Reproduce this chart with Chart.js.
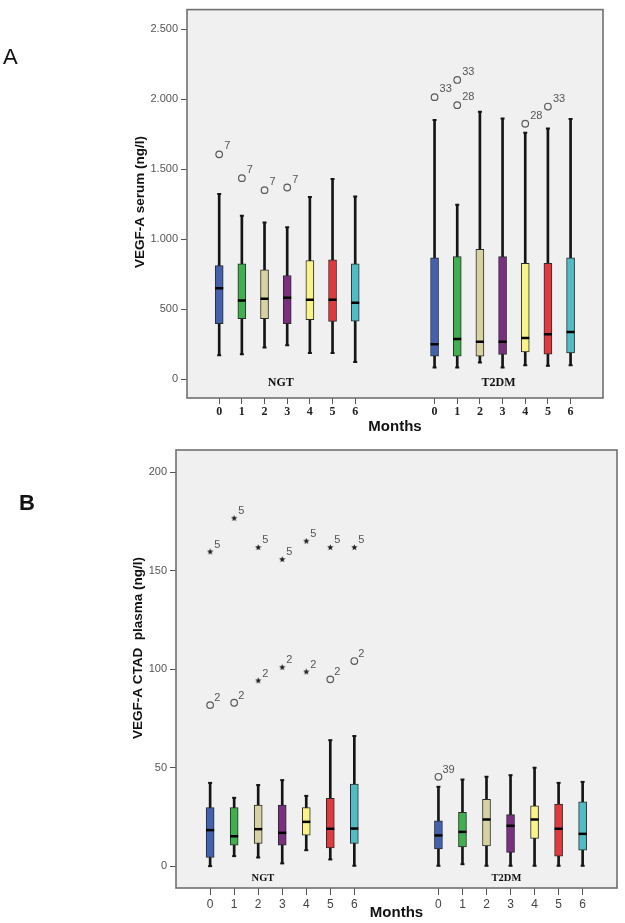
<!DOCTYPE html>
<html>
<head>
<meta charset="utf-8">
<script src="https://cdn.jsdelivr.net/npm/chart.js@4.4.0/dist/chart.umd.min.js"></script>
<style>
    body { margin: 0; background: #fff; }
    #wrap { position: relative; width: 625px; height: 923px; overflow: hidden; }
    canvas { position: absolute; left: 0; }
    #chartA { top: 0; }
    #chartB { top: 436px; }
    .panel-letter { position: absolute; font-family: 'Liberation Sans', Arial, sans-serif; font-size: 22px; color: #111; }
</style>
</head>
<body>
<div id="wrap">
    <canvas id="chartA" width="625" height="436"></canvas>
    <canvas id="chartB" width="625" height="487"></canvas>
    <div class="panel-letter" style="left:3px;top:44px;">A</div>
    <div class="panel-letter" style="left:19px;top:490px;font-weight:bold;">B</div>
</div>
<script>
// Box positions on the month axis: NGT months 0-6, a gap, then T2DM months 0-6
const boxPositions = [0, 1, 2, 3, 4, 5, 6, 9.5, 10.5, 11.5, 12.5, 13.5, 14.5, 15.5];
const monthLabels = ['0', '1', '2', '3', '4', '5', '6', '0', '1', '2', '3', '4', '5', '6'];
const groupNames = ['NGT', 'T2DM'];
const monthColors = ['#4261ae', '#3fb04d', '#d8d2a2', '#7a2f80', '#f9f38a', '#e03a3e', '#4fbcc6'];

// Panel A - VEGF-A serum (ng/l)
const serumTicks = [0, 500, 1000, 1500, 2000, 2500];
const serumMin = [171, 178, 226, 242, 187, 187, 123, 83, 83, 119, 83, 100, 95, 100];
const serumQ1 = [397, 432, 432, 397, 425, 413, 415, 164, 164, 164, 176, 195, 178, 187];
const serumMedian = [650, 563, 575, 582, 568, 568, 546, 249, 287, 268, 268, 294, 321, 337];
const serumQ3 = [812, 824, 781, 741, 848, 853, 824, 867, 876, 928, 876, 828, 828, 867];
const serumMax = [1323, 1168, 1120, 1085, 1303, 1430, 1306, 1852, 1246, 1911, 1864, 1762, 1792, 1859];
const serumOutlierBox = [0, 1, 2, 3, 7, 8, 8, 11, 12];
const serumOutlierValue = [1607, 1437, 1351, 1370, 2016, 2139, 1959, 1826, 1949];
const serumOutlierLabel = ['7', '7', '7', '7', '33', '33', '28', '28', '33'];

// Panel B - VEGF-A CTAD plasma (ng/l)
const plasmaTicks = [0, 50, 100, 150, 200];
const plasmaMin = [0, 5.1, 4.4, 1.4, 8.1, 3.4, 0.2, 0.2, 1.0, 0.2, 0.2, 0.2, 0.2, 0.2];
const plasmaQ1 = [4.4, 10.7, 11.5, 10.7, 15.7, 9.3, 11.5, 8.8, 9.8, 10.3, 7.0, 14.1, 5.1, 8.1];
const plasmaMedian = [18.3, 15.2, 18.8, 16.9, 22.5, 19.0, 19.1, 15.6, 17.4, 23.7, 20.5, 23.7, 19.0, 16.4];
const plasmaQ3 = [29.8, 29.8, 31.0, 31.0, 29.8, 34.4, 41.7, 23.0, 27.3, 34.0, 26.2, 30.7, 31.5, 32.7];
const plasmaMax = [42.3, 34.7, 41.2, 43.7, 35.7, 64.0, 66.1, 40.3, 44.0, 45.4, 46.2, 50.0, 42.3, 42.8];
const plasmaCircleBox = [0, 1, 5, 6, 7];
const plasmaCircleValue = [81.8, 83.0, 94.9, 104.2, 45.4];
const plasmaCircleLabel = ['2', '2', '2', '2', '39'];
const plasmaStarBox = [0, 1, 2, 3, 4, 5, 6, 2, 3, 4];
const plasmaStarValue = [159.7, 176.7, 161.9, 155.8, 165.1, 161.9, 161.9, 94.2, 101.0, 98.7];
const plasmaStarLabel = ['5', '5', '5', '5', '5', '5', '5', '2', '2', '2'];

const sansFont = "'Liberation Sans', Arial, sans-serif";
const serifFont = "'Liberation Serif', 'Times New Roman', serif";

// German style thousands separator: 2.500
function formatTick(v) {
    if (v >= 1000) {
        return Math.floor(v / 1000) + '.' + String(v % 1000).padStart(3, '0');
    }
    return String(v);
}

// Small filled star used by SPSS for extreme values
function makeStar(size, color) {
    const c = document.createElement('canvas');
    c.width = size;
    c.height = size;
    const g = c.getContext('2d');
    const r = size / 2;
    g.beginPath();
    for (let i = 0; i < 10; i++) {
        const rad = i % 2 ? r * 0.42 : r - 0.2;
        const a = -Math.PI / 2 + i * Math.PI / 5;
        g.lineTo(r + rad * Math.cos(a), r + rad * Math.sin(a));
    }
    g.closePath();
    g.fillStyle = color;
    g.fill();
    return c;
}

function boxDatasets(mins, q1s, medians, q3s, maxs, boxWidth) {
    const caps = [];
    boxPositions.forEach((x, i) => {
        caps.push({ x: x, y: mins[i] });
        caps.push({ x: x, y: maxs[i] });
    });
    return [
        {
            type: 'bar',
            order: 4,
            grouped: false,
            data: boxPositions.map((x, i) => ({ x: x, y: [mins[i], maxs[i]] })),
            backgroundColor: '#151515',
            borderWidth: 0,
            barThickness: 2
        },
        {
            order: 3,
            data: caps,
            pointStyle: 'line',
            radius: 2,
            borderWidth: 2,
            borderColor: '#151515'
        },
        {
            type: 'bar',
            order: 2,
            grouped: false,
            data: boxPositions.map((x, i) => ({ x: x, y: [q1s[i], q3s[i]] })),
            backgroundColor: boxPositions.map((x, i) => monthColors[i % 7]),
            borderColor: '#2b2b2b',
            borderWidth: 1,
            borderSkipped: false,
            barThickness: boxWidth
        },
        {
            order: 1,
            data: boxPositions.map((x, i) => ({ x: x, y: medians[i] })),
            pointStyle: 'line',
            radius: boxWidth / 2,
            borderWidth: 2.5,
            borderColor: '#000'
        }
    ];
}

function outlierDataset(boxIdx, values, labels, style) {
    return Object.assign({
        order: 0,
        data: boxIdx.map((b, i) => ({ x: boxPositions[b], y: values[i] })),
        pointLabels: labels
    }, style);
}

// Plot background and frame
const plotFrame = {
    id: 'plotFrame',
    beforeDraw(chart) {
        const { ctx, chartArea: a } = chart;
        ctx.save();
        ctx.fillStyle = '#f0f0f0';
        ctx.fillRect(a.left, a.top, a.right - a.left, a.bottom - a.top);
        ctx.restore();
    },
    afterDraw(chart) {
        const { ctx, chartArea: a } = chart;
        ctx.save();
        ctx.strokeStyle = '#707070';
        ctx.lineWidth = 1.6;
        ctx.strokeRect(a.left, a.top, a.right - a.left, a.bottom - a.top);
        ctx.restore();
    }
};

// Case numbers next to outliers
const pointLabels = {
    id: 'pointLabels',
    afterDatasetsDraw(chart, args, opts) {
        const ctx = chart.ctx;
        ctx.save();
        ctx.fillStyle = '#555';
        ctx.font = opts.size + 'px ' + sansFont;
        ctx.textAlign = 'left';
        ctx.textBaseline = 'middle';
        chart.data.datasets.forEach((ds, i) => {
            if (!ds.pointLabels) return;
            chart.getDatasetMeta(i).data.forEach((pt, j) => {
                ctx.fillText(ds.pointLabels[j], pt.x + opts.dx, pt.y + opts.dy);
            });
        });
        ctx.restore();
    }
};

// NGT / T2DM names inside the plot
const groupLabels = {
    id: 'groupLabels',
    afterDatasetsDraw(chart, args, opts) {
        const ctx = chart.ctx;
        ctx.save();
        ctx.fillStyle = '#111';
        ctx.font = 'bold ' + opts.size + 'px ' + serifFont;
        ctx.textAlign = 'center';
        ctx.textBaseline = 'middle';
        groupNames.forEach((name, i) => {
            ctx.fillText(name, chart.scales.x.getPixelForValue(opts.at[i]), chart.chartArea.bottom - opts.up);
        });
        ctx.restore();
    }
};

// Rotated y axis title
const yTitle = {
    id: 'yTitle',
    afterDraw(chart, args, opts) {
        const ctx = chart.ctx;
        ctx.save();
        ctx.translate(opts.x, opts.y);
        ctx.rotate(-Math.PI / 2);
        ctx.fillStyle = '#111';
        ctx.font = 'bold 13.5px ' + sansFont;
        ctx.textAlign = 'center';
        ctx.textBaseline = 'middle';
        ctx.fillText(opts.text, 0, 0);
        ctx.restore();
    }
};

function makeOptions(cfg) {
    return {
        responsive: false,
        animation: false,
        layout: { padding: cfg.padding },
        plugins: {
            legend: { display: false },
            tooltip: { enabled: false },
            pointLabels: cfg.pointLabels,
            groupLabels: cfg.groupLabels,
            yTitle: cfg.yTitle
        },
        scales: {
            x: {
                type: 'linear',
                min: -1.42,
                max: 16.93,
                offset: false,
                afterBuildTicks: scale => { scale.ticks = boxPositions.map(v => ({ value: v })); },
                afterFit: scale => { scale.height = cfg.xHeight; },
                border: { display: false },
                grid: { drawOnChartArea: false, drawTicks: true, tickLength: cfg.tickLength, color: '#555', offset: false },
                ticks: {
                    autoSkip: false,
                    maxRotation: 0,
                    padding: cfg.xTickPadding,
                    color: cfg.xTickColor,
                    font: cfg.xTickFont,
                    callback: (value, index) => monthLabels[index]
                },
                title: {
                    display: true,
                    text: 'Months',
                    color: '#111',
                    font: { family: sansFont, size: 15, weight: 'bold' },
                    padding: { top: 0, bottom: cfg.titlePadding }
                }
            },
            y: {
                type: 'linear',
                min: cfg.yMin,
                max: cfg.yMax,
                afterBuildTicks: scale => { scale.ticks = cfg.yTicks.map(v => ({ value: v })); },
                afterFit: scale => { scale.width = cfg.yWidth; },
                border: { display: false },
                grid: { drawOnChartArea: false, drawTicks: true, tickLength: 6, color: '#555' },
                ticks: {
                    padding: 3,
                    color: '#555',
                    font: { family: sansFont, size: 11 },
                    callback: v => formatTick(v)
                }
            }
        }
    };
}

const circleStyle = {
    pointStyle: 'circle',
    radius: 3.3,
    borderWidth: 1.2,
    borderColor: '#5a5a5a',
    backgroundColor: 'rgba(0,0,0,0)'
};
const starStyle = {
    pointStyle: makeStar(7, '#222'),
    radius: 3.5
};

new Chart(document.getElementById('chartA'), {
    type: 'scatter',
    data: {
        datasets: boxDatasets(serumMin, serumQ1, serumMedian, serumQ3, serumMax, 8).concat([
            outlierDataset(serumOutlierBox, serumOutlierValue, serumOutlierLabel, circleStyle)
        ])
    },
    options: makeOptions({
        padding: { left: 0, right: 22, top: 8, bottom: 0 },
        xHeight: 38,
        yWidth: 187,
        yMin: -135,
        yMax: 2642,
        yTicks: serumTicks,
        tickLength: 6,
        xTickPadding: 1,
        xTickColor: '#222',
        xTickFont: { family: serifFont, size: 12, weight: 'bold' },
        titlePadding: 0,
        pointLabels: { dx: 5, dy: -8, size: 11 },
        groupLabels: { at: [2.72, 12.32], up: 15, size: 12 },
        yTitle: { text: 'VEGF-A serum (ng/l)', x: 140, y: 202 }
    }),
    plugins: [plotFrame, pointLabels, groupLabels, yTitle]
});

new Chart(document.getElementById('chartB'), {
    type: 'scatter',
    data: {
        datasets: boxDatasets(plasmaMin, plasmaQ1, plasmaMedian, plasmaQ3, plasmaMax, 8).concat([
            outlierDataset(plasmaCircleBox, plasmaCircleValue, plasmaCircleLabel, circleStyle),
            outlierDataset(plasmaStarBox, plasmaStarValue, plasmaStarLabel, starStyle)
        ])
    },
    options: makeOptions({
        padding: { left: 0, right: 8, top: 14, bottom: 0 },
        xHeight: 35,
        yWidth: 176,
        yMin: -11.1,
        yMax: 211.4,
        yTicks: plasmaTicks,
        tickLength: 7,
        xTickPadding: 2,
        xTickColor: '#444',
        xTickFont: { family: sansFont, size: 12 },
        titlePadding: 1,
        pointLabels: { dx: 4, dy: -7, size: 11 },
        groupLabels: { at: [2.2, 12.33], up: 10, size: 10.5 },
        yTitle: { text: 'VEGF-A CTAD  plasma (ng/l)', x: 138, y: 212 }
    }),
    plugins: [plotFrame, pointLabels, groupLabels, yTitle]
});
</script>
</body>
</html>
